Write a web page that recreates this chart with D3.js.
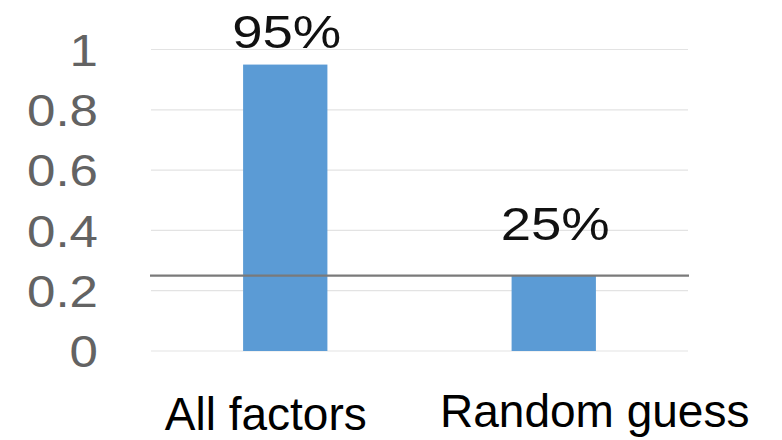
<!DOCTYPE html>
<html>
<head>
<meta charset="utf-8">
<script src="https://cdn.jsdelivr.net/npm/d3@7"></script>
<style>
  html, body { margin: 0; padding: 0; background: #fff; }
  svg { display: block; }
</style>
</head>
<body>
<svg id="chart" width="782" height="440"></svg>
<script>
// Accuracy of each approach
const categories = ["All factors", "Random guess"];
const values = [0.95, 0.25];
const valueLabels = ["95%", "25%"];
const yTicks = [0, 0.2, 0.4, 0.6, 0.8, 1];
const yTickLabels = ["0", "0.2", "0.4", "0.6", "0.8", "1"];
const chanceLevel = [0.25];

const svg = d3.select("#chart");
const plot = { left: 151, right: 688, top: 49.5, bottom: 351 };

const x = d3.scaleBand()
  .domain(categories)
  .range([plot.left, plot.right])
  .paddingInner(0.686)
  .paddingOuter(0.343);

const y = d3.scaleLinear()
  .domain([0, 1])
  .range([plot.bottom, plot.top]);

// Horizontal gridlines
svg.append("g")
  .selectAll("line")
  .data(yTicks)
  .join("line")
  .attr("x1", plot.left)
  .attr("x2", plot.right)
  .attr("y1", d => y(d))
  .attr("y2", d => y(d))
  .attr("stroke", "#e3e3e3")
  .attr("stroke-width", 1.2);

// Y axis labels
const yAxis = d3.axisLeft(y)
  .tickValues(yTicks)
  .tickFormat((d, i) => yTickLabels[i])
  .tickSize(0)
  .tickPadding(0);

const yg = svg.append("g")
  .attr("transform", `translate(${plot.left - 53},0)`)
  .call(yAxis)
  .attr("font-family", null)
  .attr("font-size", null);
yg.select(".domain").remove();
yg.selectAll("text")
  .style("font-family", "'Liberation Sans', Arial, sans-serif")
  .style("font-size", "44px")
  .attr("fill", "#636363")
  .attr("dy", "0.36em")
  .attr("transform", "scale(1.16,1)");

// Bars
svg.append("g")
  .selectAll("rect")
  .data(values)
  .join("rect")
  .attr("x", (d, i) => x(categories[i]))
  .attr("width", x.bandwidth())
  .attr("y", d => y(d))
  .attr("height", d => y(0) - y(d))
  .attr("fill", "#5b9bd5");

// Chance-level reference line
svg.append("g")
  .selectAll("line")
  .data(chanceLevel)
  .join("line")
  .attr("x1", plot.left - 1)
  .attr("x2", plot.right + 1)
  .attr("y1", d => y(d))
  .attr("y2", d => y(d))
  .attr("stroke", "#7a7a7a")
  .attr("stroke-width", 2.4);

// Value labels above the bars
const labelLift = [17, 36];
svg.append("g")
  .selectAll("text")
  .data(values)
  .join("text")
  .attr("transform", (d, i) =>
    `translate(${x(categories[i]) + x.bandwidth() / 2 + 1.5},${y(d) - labelLift[i]}) scale(1.16,1)`)
  .attr("text-anchor", "middle")
  .attr("font-family", "'Liberation Sans', Arial, sans-serif")
  .attr("font-size", 47)
  .attr("fill", "#111")
  .text((d, i) => valueLabels[i]);

// Category labels
const catShift = [-19.5, 41];
const catBaseline = [430, 427];
svg.append("g")
  .selectAll("text")
  .data(categories)
  .join("text")
  .attr("x", (d, i) => x(d) + x.bandwidth() / 2 + catShift[i])
  .attr("y", (d, i) => catBaseline[i])
  .attr("text-anchor", "middle")
  .attr("font-family", "'Liberation Sans', Arial, sans-serif")
  .attr("font-size", 46)
  .attr("fill", "#000")
  .text(d => d);
</script>
</body>
</html>
